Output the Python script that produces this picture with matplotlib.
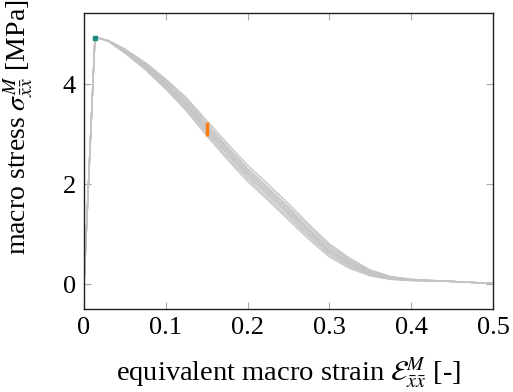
import matplotlib
matplotlib.use("Agg")
import matplotlib.pyplot as plt

plt.rcParams['font.family'] = ['Liberation Serif', 'DejaVu Serif']
plt.rcParams['mathtext.fontset'] = 'stix'

strain = [0, 0.0134, 0.02, 0.03, 0.05, 0.075, 0.1, 0.125, 0.15, 0.175, 0.2,
          0.225, 0.25, 0.275, 0.3, 0.325, 0.35, 0.375, 0.4, 0.45, 0.5]

stress_1 = [0, 4.93, 4.91, 4.85, 4.62, 4.29, 3.90, 3.47, 2.97, 2.50, 2.06, 1.68, 1.29, 0.90, 0.55, 0.32, 0.17, 0.10, 0.075, 0.06, 0.02]
stress_2 = [0, 4.93, 4.91, 4.85, 4.63, 4.31, 3.93, 3.51, 3.02, 2.55, 2.11, 1.73, 1.34, 0.95, 0.59, 0.35, 0.19, 0.11, 0.08, 0.06, 0.02]
stress_3 = [0, 4.93, 4.91, 4.86, 4.64, 4.33, 3.96, 3.55, 3.06, 2.60, 2.16, 1.78, 1.39, 0.99, 0.63, 0.38, 0.21, 0.12, 0.084, 0.06, 0.02]
stress_4 = [0, 4.93, 4.91, 4.86, 4.65, 4.35, 3.99, 3.58, 3.10, 2.64, 2.20, 1.82, 1.43, 1.03, 0.66, 0.41, 0.22, 0.13, 0.088, 0.06, 0.02]
stress_5 = [0, 4.93, 4.91, 4.86, 4.66, 4.37, 4.01, 3.61, 3.14, 2.68, 2.24, 1.86, 1.47, 1.07, 0.69, 0.43, 0.24, 0.13, 0.092, 0.06, 0.02]
stress_6 = [0, 4.93, 4.91, 4.86, 4.67, 4.39, 4.04, 3.65, 3.17, 2.72, 2.28, 1.90, 1.51, 1.10, 0.73, 0.46, 0.25, 0.14, 0.095, 0.06, 0.02]
stress_7 = [0, 4.93, 4.91, 4.87, 4.69, 4.41, 4.07, 3.69, 3.22, 2.76, 2.32, 1.94, 1.55, 1.15, 0.77, 0.49, 0.27, 0.15, 0.10, 0.06, 0.02]
stress_8 = [0, 4.93, 4.91, 4.87, 4.70, 4.43, 4.10, 3.73, 3.27, 2.82, 2.38, 2.00, 1.61, 1.20, 0.81, 0.52, 0.29, 0.16, 0.105, 0.06, 0.02]
all_stress = [stress_1, stress_2, stress_3, stress_4, stress_5, stress_6, stress_7, stress_8]

peak_strain = [0.0134]
peak_stress = [4.93]

mark_strain = [0.15, 0.15]
mark_stress = [2.96, 3.25]

xticks = [0, 0.1, 0.2, 0.3, 0.4, 0.5]
xticklabels = ['0', '0.1', '0.2', '0.3', '0.4', '0.5']
yticks = [0, 2, 4]
yticklabels = ['0', '2', '4']

fig = plt.figure(figsize=(5.13, 3.92), dpi=100)
ax = fig.add_axes([84/513, 1-309/392, (493-84)/513, (309-13)/392])

for s in all_stress:
    ax.plot(strain, s, color='#c4c4c4', lw=1.0, zorder=2)

ax.plot(mark_strain, mark_stress, color='#ff7f0e', lw=2.5, solid_capstyle='butt', zorder=3)
ax.plot(peak_strain, peak_stress, 's', color='#1a8a80', ms=3, zorder=4)

ax.set_xlim(0, 0.5)
ax.set_ylim(-0.49, 5.42)
ax.set_xticks(xticks)
ax.set_xticklabels(xticklabels)
ax.set_yticks(yticks)
ax.set_yticklabels(yticklabels)
ax.tick_params(direction='in', top=True, right=True, length=5, width=0.8,
               color='#a8a8a8', labelsize=19, pad=6)
for sp in ax.spines.values():
    sp.set_linewidth(1.0)
    sp.set_color('#202020')

ax.set_xlabel(r'equivalent macro strain $\mathcal{E}^{M}_{\bar{x}\bar{x}}$ [-]', fontsize=20.5)
ax.set_ylabel(r'macro stress $\sigma^{M}_{\bar{x}\bar{x}}$ [MPa]', fontsize=20)
ax.xaxis.label.set_va('center')
ax.yaxis.label.set_va('center')
ax.xaxis.set_label_coords(0.5, (309 - 374) / 296)
ax.yaxis.set_label_coords((19 - 84) / 409, (309 - 127) / 296)

fig.savefig('out.png', dpi=100)
